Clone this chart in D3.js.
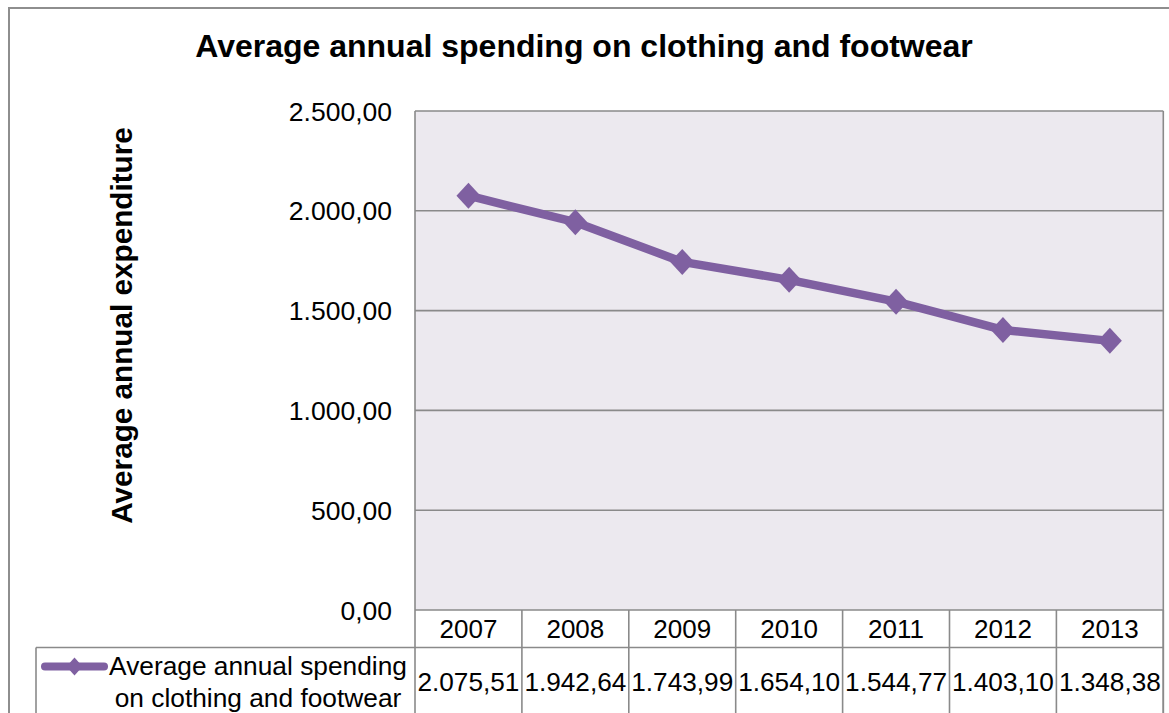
<!DOCTYPE html>
<html>
<head>
<meta charset="utf-8">
<script src="https://cdn.jsdelivr.net/npm/d3@7"></script>
<style>
  html, body { margin: 0; padding: 0; background: #fff; }
  svg { display: block; font-family: Arial, "Liberation Sans", sans-serif; }
</style>
</head>
<body>
<svg id="chart" width="1169" height="713"></svg>
<script>
// Data
const years = ["2007", "2008", "2009", "2010", "2011", "2012", "2013"];
const spending = [2075.51, 1942.64, 1743.99, 1654.10, 1544.77, 1403.10, 1348.38];
const yTicks = [0, 500, 1000, 1500, 2000, 2500];
const seriesName = ["Average annual spending", "on clothing and footwear"];
const chartTitle = "Average annual spending on clothing and footwear";
const yTitle = "Average annual expenditure";

// European number format: 1.234,56
const locale = d3.formatLocale({ decimal: ",", thousands: ".", grouping: [3], currency: ["", "€"] });
const fmt = locale.format(",.2f");

const svg = d3.select("#chart");
const W = 1169, H = 713;
const plot = { left: 415, right: 1163.3, top: 111, bottom: 610 };
const purple = "#7F60A1";
const gridGray = "#8a8a8a";

// Outer chart frame
svg.append("rect")
  .attr("x", 9).attr("y", 8)
  .attr("width", W + 20).attr("height", H + 20)
  .attr("fill", "#fff")
  .attr("stroke", "#8e8e8e").attr("stroke-width", 2);

// Scales
const x = d3.scaleBand().domain(years).range([plot.left, plot.right]).padding(0);
const y = d3.scaleLinear().domain([0, 2500]).range([plot.bottom, plot.top]);

// Plot area background
svg.append("rect")
  .attr("x", plot.left).attr("y", plot.top)
  .attr("width", plot.right - plot.left).attr("height", plot.bottom - plot.top)
  .attr("fill", "#ECE9EF");

// Horizontal gridlines + y tick labels
const yAxis = d3.axisLeft(y).tickValues(yTicks).tickFormat(fmt).tickSize(0).tickPadding(0);
const gy = svg.append("g").attr("transform", `translate(${plot.left},0)`).call(yAxis);
gy.select(".domain").remove();
gy.selectAll(".tick text")
  .attr("x", -(plot.left - 392))
  .attr("dy", null).attr("y", 9)
  .attr("font-size", 26.5).attr("fill", "#000")
  .attr("font-family", "Arial, 'Liberation Sans', sans-serif");
gy.selectAll(".tick line").remove();

svg.append("g").selectAll("line")
  .data(yTicks)
  .join("line")
  .attr("x1", plot.left).attr("x2", plot.right)
  .attr("y1", d => y(d)).attr("y2", d => y(d))
  .attr("stroke", gridGray).attr("stroke-width", 1.6);

// Plot frame (left & right edges)
svg.append("line")
  .attr("x1", plot.left).attr("x2", plot.left)
  .attr("y1", plot.top).attr("y2", plot.bottom)
  .attr("stroke", gridGray).attr("stroke-width", 1.6);
svg.append("line")
  .attr("x1", plot.right).attr("x2", plot.right)
  .attr("y1", plot.top).attr("y2", H + 5)
  .attr("stroke", gridGray).attr("stroke-width", 1.6);

// Data table below the plot
const rowHeaderBottom = 647.5;
const tableG = svg.append("g");
// column separators
tableG.selectAll("line.col")
  .data(years.map(d => x(d)).concat([plot.right]))
  .join("line")
  .attr("class", "col")
  .attr("x1", d => d).attr("x2", d => d)
  .attr("y1", plot.bottom).attr("y2", H + 5)
  .attr("stroke", gridGray).attr("stroke-width", 1.6);
// row separator line (legend cell + values)
tableG.append("line")
  .attr("x1", 36).attr("x2", plot.right)
  .attr("y1", rowHeaderBottom).attr("y2", rowHeaderBottom)
  .attr("stroke", gridGray).attr("stroke-width", 1.6);
// legend cell left edge
tableG.append("line")
  .attr("x1", 36).attr("x2", 36)
  .attr("y1", rowHeaderBottom).attr("y2", H + 5)
  .attr("stroke", gridGray).attr("stroke-width", 1.6);

// Year headers
tableG.selectAll("text.year")
  .data(years)
  .join("text")
  .attr("class", "year")
  .attr("x", d => x(d) + x.bandwidth() / 2)
  .attr("y", 637.5)
  .attr("text-anchor", "middle")
  .attr("font-size", 26)
  .text(d => d);

// Values
tableG.selectAll("text.val")
  .data(spending)
  .join("text")
  .attr("class", "val")
  .attr("x", (d, i) => x(years[i]) + x.bandwidth() / 2)
  .attr("y", 690.5)
  .attr("text-anchor", "middle")
  .attr("font-size", 26.2)
  .text(d => fmt(d));

// Legend key
const diamond = (r, ry) => `M0,${-ry}L${r},0L0,${ry}L${-r},0Z`;
const legendY = 666.5;
tableG.append("line")
  .attr("x1", 45).attr("x2", 104)
  .attr("y1", legendY).attr("y2", legendY)
  .attr("stroke", purple).attr("stroke-width", 8)
  .attr("stroke-linecap", "round");
tableG.append("path")
  .attr("d", diamond(8, 9))
  .attr("transform", `translate(74.5,${legendY})`)
  .attr("fill", purple);
tableG.selectAll("text.leg")
  .data(seriesName)
  .join("text")
  .attr("class", "leg")
  .attr("x", 258)
  .attr("y", (d, i) => 675 + i * 31.5)
  .attr("text-anchor", "middle")
  .attr("font-size", 26.3)
  .text(d => d);

// Series line
const line = d3.line()
  .x((d, i) => x(years[i]) + x.bandwidth() / 2)
  .y(d => y(d));
svg.append("path")
  .datum(spending)
  .attr("d", line)
  .attr("fill", "none")
  .attr("stroke", purple)
  .attr("stroke-width", 8.5)
  .attr("stroke-linejoin", "round");

svg.append("g").selectAll("path")
  .data(spending)
  .join("path")
  .attr("d", diamond(12, 13))
  .attr("transform", (d, i) => `translate(${x(years[i]) + x.bandwidth() / 2},${y(d)})`)
  .attr("fill", purple);

// Titles
svg.append("text")
  .attr("x", 584).attr("y", 57)
  .attr("text-anchor", "middle")
  .attr("font-size", 32).attr("font-weight", "bold")
  .text(chartTitle);

svg.append("text")
  .attr("transform", "translate(131.5,325.5) rotate(-90)")
  .attr("text-anchor", "middle")
  .attr("font-size", 29.7).attr("font-weight", "bold")
  .text(yTitle);
</script>
</body>
</html>
